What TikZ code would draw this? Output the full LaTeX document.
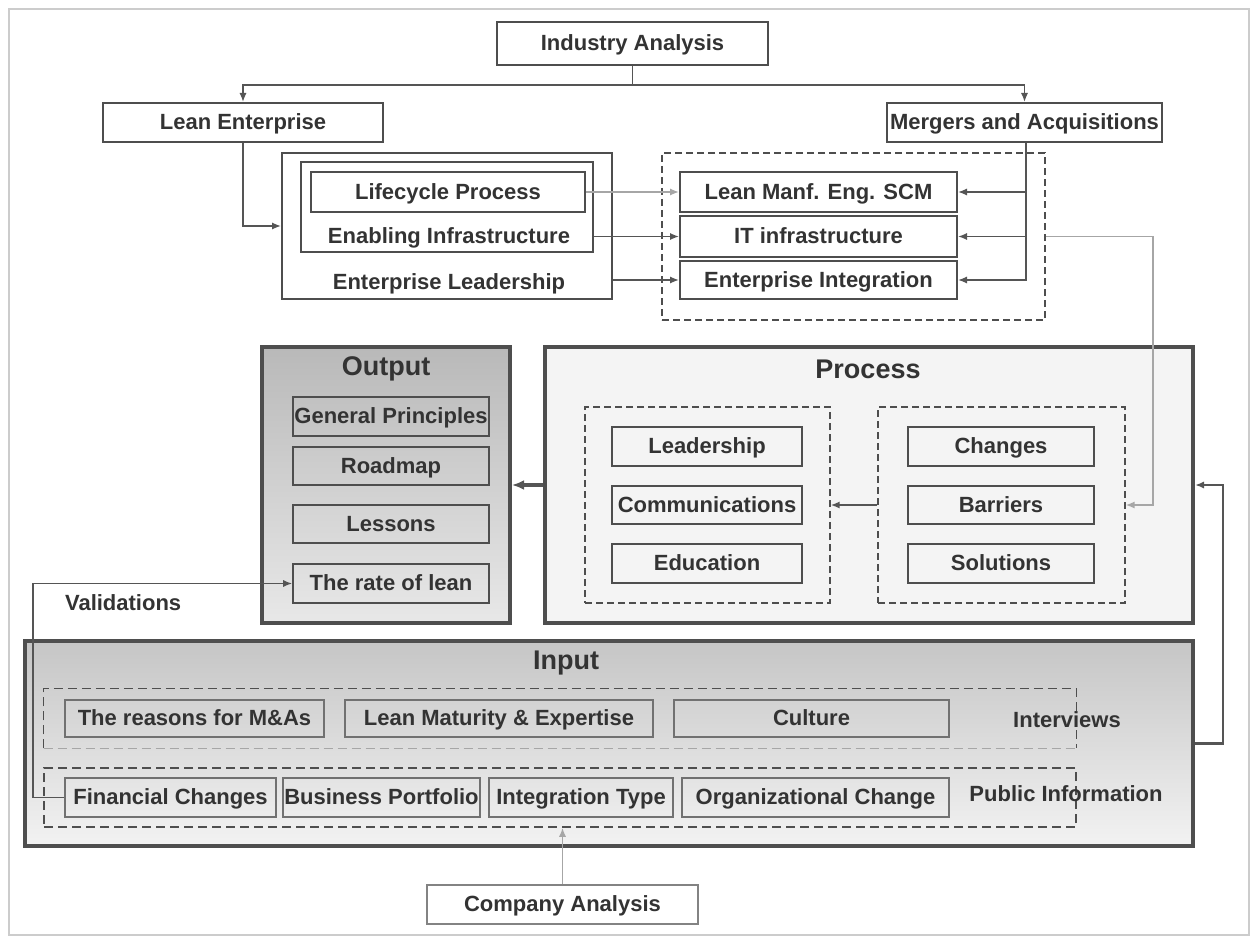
\documentclass[tikz,border=0pt]{standalone}
\usepackage{fontspec}
\setmainfont{Liberation Sans}
\usetikzlibrary{arrows.meta,fit}

\definecolor{ink}{HTML}{333333}
\definecolor{edge}{HTML}{4E4E4E}
\definecolor{wire}{HTML}{555555}
\definecolor{pale}{HTML}{A6A6A6}
\definecolor{framec}{HTML}{CCCCCC}
\definecolor{procfill}{HTML}{F4F4F4}

\tikzset{
  lbl/.style={font=\fontsize{11}{13}\selectfont\bfseries, text=ink},
  ttl/.style={font=\fontsize{13.5}{16}\selectfont\bfseries, text=ink},
  topbox/.style={draw=edge, line width=1pt, inner sep=0pt},
  subbox/.style={draw=edge, line width=0.8pt, inner sep=0pt},
  inbox/.style={draw=edge!80, line width=0.8pt, inner sep=0pt},
  panel/.style={draw=edge, line width=2pt, inner sep=0pt},
  grp/.style={draw=edge, line width=0.7pt, dash pattern=on 3.5pt off 2pt, inner sep=0pt},
  bigdash/.style={draw=edge, line width=0.8pt, dash pattern=on 4.5pt off 2.5pt},
  tip/.style={-{Latex[length=4.5pt,width=3.6pt]}},
  wire/.style={draw=wire, line width=0.8pt},
  palewire/.style={draw=pale, line width=0.8pt},
}

% a box given by its two corners, with its label set in its centre
\newcommand{\mkbox}[7]{%
  \node[#1, fit={(#3,#4) (#5,#6)}] (#2) {};%
  \node[lbl, inner sep=0pt, text height=8pt, text depth=1pt] (#2-t) at (#2.center) {#7};}

\begin{document}
\begin{tikzpicture}[x=0.5pt,y=-0.5pt]
\useasboundingbox (0,0) rectangle (1251,936);
\draw[framec, line width=0.6pt] (9,9) rectangle (1249,935);

% ---------- top: analyses ----------
\mkbox{topbox}{ind}{497}{22}{768}{65}{Industry Analysis}
\mkbox{topbox}{le}{103}{103}{383}{142}{Lean Enterprise}
\mkbox{topbox}{ma}{887}{103}{1162}{142}{Mergers and Acquisitions}

\coordinate (jn) at (632,85);
\draw[wire] (ind.south) -- (ind.south |- jn);
\draw[wire,tip] (ind.south |- jn) -| (le.north);
\draw[wire,tip] (ind.south |- jn) -| (ma.north);

% lean enterprise layers
\mkbox{topbox}{ent}{282}{153}{612}{299}{}
\mkbox{topbox}{enab}{301}{162}{593}{252}{}
\mkbox{topbox}{life}{311}{172}{585}{212}{Lifecycle Process}
\node[lbl] (enabt) at (449,238) {Enabling Infrastructure};
\node[lbl] (entt) at (449,284) {Enterprise Leadership};

% M&A areas
\mkbox{grp}{topgrp}{662}{153}{1045}{320}{}
\mkbox{topbox}{lmf}{680}{172}{957}{212}{Lean Manf. Eng. SCM}
\mkbox{topbox}{it}{680}{216}{957}{257}{IT infrastructure}
\mkbox{topbox}{ei}{680}{261}{957}{299}{Enterprise Integration}

\draw[wire,tip] (le.south) |- (ent.west);
\draw[palewire,tip] (life.east) -- (lmf.west);
\draw[wire,tip] (enab.east |- it.west) -- (it.west);
\draw[wire,tip] (ent.east |- ei.west) -- (ei.west);

\coordinate (mx) at (1026,0);
\draw[wire,tip] (ma.south -| mx) |- (ei.east);
\draw[wire,tip] (mx |- lmf.east) -- (lmf.east);
\draw[wire,tip] (mx |- it.east) -- (it.east);

% ---------- output ----------
\mkbox{panel, top color=gray!55, bottom color=gray!18}{out}{262}{347}{510}{623}{}
\node[ttl] (outt) at (386,369) {Output};
\mkbox{subbox}{gp}{293}{397}{489}{436}{General Principles}
\mkbox{subbox}{rm}{293}{447}{489}{485}{Roadmap}
\mkbox{subbox}{ls}{293}{505}{489}{543}{Lessons}
\mkbox{subbox}{rate}{293}{564}{489}{603}{The rate of lean}

% ---------- process ----------
\mkbox{panel, fill=procfill}{proc}{545}{347}{1193}{623}{}
\node[ttl] (proct) at (868,369) {Process};
\mkbox{grp}{lgrp}{585}{407}{830}{603}{}
\mkbox{grp}{rgrp}{878}{407}{1125}{603}{}
\mkbox{subbox}{lead}{612}{427}{802}{466}{Leadership}
\mkbox{subbox}{comm}{612}{486}{802}{524}{Communications}
\mkbox{subbox}{edu}{612}{544}{802}{583}{Education}
\mkbox{subbox}{chg}{908}{427}{1094}{466}{Changes}
\mkbox{subbox}{bar}{908}{486}{1094}{524}{Barriers}
\mkbox{subbox}{sol}{908}{544}{1094}{583}{Solutions}

\draw[wire, line width=1.6pt, -{Latex[length=6pt,width=5pt]}] (proc.west) -- (out.east);
\draw[wire,tip] (rgrp.west) -- (lgrp.east);

\coordinate (gb) at (1153,0);
\draw[palewire,tip] (topgrp.east) -- (topgrp.east -| gb) |- (rgrp.east);

% ---------- input ----------
\mkbox{panel, top color=gray!45, bottom color=gray!10}{inp}{25}{641}{1193}{846}{}
\node[ttl] (inpt) at (566,663) {Input};

\node[fit={(44,689) (1076,748)}, inner sep=0pt] (iv) {};
\draw[bigdash] (iv.south west) -- (iv.north west) -- (iv.north east) -- (iv.south east);
\draw[bigdash, draw=pale] (iv.south west) -- (iv.south east);
\node[bigdash, fit={(44,768) (1076,827)}, inner sep=0pt] (pub) {};

\mkbox{inbox}{rsn}{65}{700}{324}{737}{The reasons for M\&As}
\mkbox{inbox}{lmx}{345}{700}{653}{737}{Lean Maturity \& Expertise}
\mkbox{inbox}{cul}{674}{700}{949}{737}{Culture}
\node[lbl] (ivt) at (1067,720) {Interviews};

\mkbox{inbox}{fin}{65}{778}{276}{817}{Financial Changes}
\mkbox{inbox}{bp}{283}{778}{480}{817}{Business Portfolio}
\mkbox{inbox}{itype}{489}{778}{673}{817}{Integration Type}
\mkbox{inbox}{org}{682}{778}{949}{817}{Organizational Change}
\node[lbl] (pubt) at (1066,794) {Public Information};

% feedback and validation loops
\coordinate (fb) at (1223,0);
\draw[wire, line width=1.1pt, tip] (inp.east) -- (inp.east -| fb) |- (proc.east);
\coordinate (vb) at (33,0);
\draw[wire,tip] (fin.west) -- (fin.west -| vb) |- (rate.west);
\node[lbl, anchor=west] (val) at (58,603) {Validations};

% ---------- company analysis ----------
\mkbox{topbox, draw=edge!70}{comp}{427}{885}{698}{924}{Company Analysis}
\draw[palewire,tip] (comp.north) -- (comp.north |- pub.south);
\end{tikzpicture}
\end{document}
